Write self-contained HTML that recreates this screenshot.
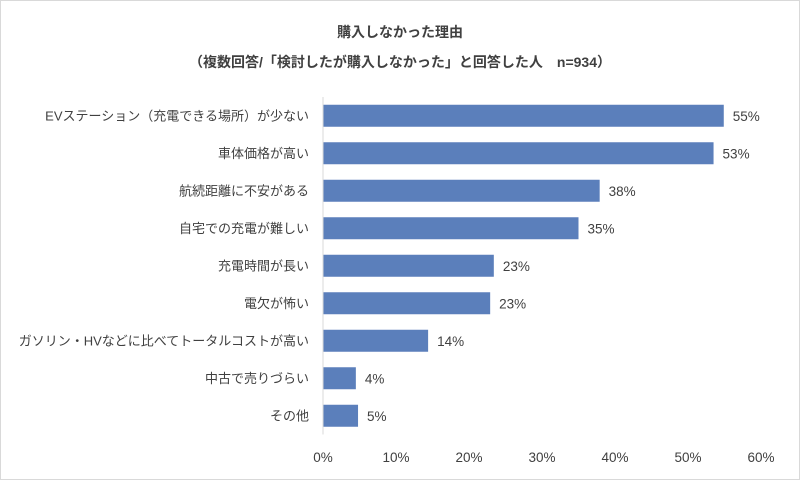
<!DOCTYPE html>
<html><head><meta charset="utf-8"><style>
body{margin:0;background:#fff;}
svg text{font-family:"Liberation Sans","Noto Sans CJK JP",sans-serif;fill:#404040;}
</style></head><body>
<svg width="800" height="480">
<rect x="0.5" y="0.5" width="799" height="479" fill="#fff" stroke="#d9d9d9"/>
<text x="400" y="37" text-anchor="middle" font-size="14" font-weight="bold">購入しなかった理由</text>
<text x="400" y="67" text-anchor="middle" font-size="14" font-weight="bold">（複数回答/「検討したが購入しなかった」と回答した人　n=934）</text>
<g id="plot"></g>
</svg>
<script>
const categories=["EVステーション（充電できる場所）が少ない","車体価格が高い","航続距離に不安がある","自宅での充電が難しい","充電時間が長い","電欠が怖い","ガソリン・HVなどに比べてトータルコストが高い","中古で売りづらい","その他"];
const values=[54.9,53.5,37.9,35.0,23.4,22.9,14.4,4.5,4.8];
const valueLabels=["55%","53%","38%","35%","23%","23%","14%","4%","5%"];
const ticks=[0,10,20,30,40,50,60];
const x0=323,x1=761,yTop=97,step=37.5;
const xs=v=>x0+(v-ticks[0])/(ticks[ticks.length-1]-ticks[0])*(x1-x0);
const yc=i=>yTop+step*(i+0.5);
const g=document.getElementById('plot');
const NS='http://www.w3.org/2000/svg';
function mk(t,a){const e=document.createElementNS(NS,t);for(const k in a)e.setAttribute(k,a[k]);g.appendChild(e);return e;}
ticks.forEach((t,i)=>{
  const e=mk('text',{x:xs(t),y:462,'text-anchor':'middle','font-size':13.5});
  e.textContent=t+'%';
  
  
});
categories.forEach((c,i)=>{
  const r=mk('rect',{x:x0,y:yc(i)-11,width:xs(values[i])-x0,height:22,fill:'#5b7fbb'});
  
  
  const l=mk('text',{x:309,y:yc(i)+4.5,'text-anchor':'end','font-size':13});
  l.textContent=c;
  
  
  const v=mk('text',{x:xs(values[i])+9,y:yc(i)+5,'font-size':13.5});
  v.textContent=valueLabels[i];
  
  
});
const ax=mk('line',{x1:x0,x2:x0,y1:yTop,y2:yTop+step*categories.length,stroke:'#d9d9d9','stroke-width':1});


</script>
</body></html>
